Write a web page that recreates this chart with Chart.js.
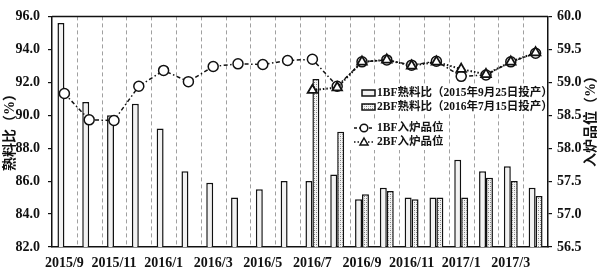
<!DOCTYPE html>
<html>
<head>
<meta charset="utf-8">
<script src="https://cdn.jsdelivr.net/npm/chart.js@4/dist/chart.umd.min.js"></script>
<style>
  html, body { margin: 0; padding: 0; background: #fff; }
  #wrap { width: 600px; height: 270px; }
</style>
</head>
<body>
<div id="wrap"><canvas id="c"></canvas></div>
<script>
// 月份
const months = ['2015/9','2015/10','2015/11','2015/12','2016/1','2016/2','2016/3','2016/4','2016/5','2016/6',
                '2016/7','2016/8','2016/9','2016/10','2016/11','2016/12','2017/1','2017/2','2017/3','2017/4'];
// 熟料比 (%)
const bf1Clinker = [95.6, 90.8, 90.0, 90.7, 89.2, 86.6, 85.9, 85.0, 85.5, 86.0,
                    86.0, 86.4, 84.9, 85.6, 85.0, 85.0, 87.3, 86.6, 86.9, 85.6];
const bf2Clinker = [null, null, null, null, null, null, null, null, null, null,
                    92.2, 89.0, 85.2, 85.4, 84.9, 85.0, 85.0, 86.2, 86.0, 85.1];
// 入炉品位 (%)
const bf1Grade = [58.83, 58.43, 58.42, 58.94, 59.18, 59.01, 59.24, 59.28, 59.27, 59.33,
                  59.35, 58.94, 59.31, 59.34, 59.26, 59.32, 59.09, 59.11, 59.31, 59.44];
const bf2Grade = [null, null, null, null, null, null, null, null, null, null,
                  58.88, 58.92, 59.31, 59.34, 59.25, 59.31, 59.20, 59.12, 59.31, 59.45];
const seriesNames = ['1BF熟料比（2015年9月25日投产）', '2BF熟料比（2016年7月15日投产）', '1BF入炉品位', '2BF入炉品位'];
const leftTitle = '熟料比（%）';
const rightTitle = '入炉品位（%）';

const FONT = "'Liberation Serif', 'Noto Sans CJK SC', serif";
const BF2_LINE_DASH = [1.5, 2];
const BF1_LINE_DASH = [4, 2.5, 1.5, 2.5];

// 2BF 的网点填充
function makePattern() {
  const c = document.createElement('canvas');
  c.width = 4; c.height = 4;
  const g = c.getContext('2d');
  g.fillStyle = '#f4f4f4'; g.fillRect(0, 0, 4, 4);
  g.fillStyle = '#7a7a7a';
  g.fillRect(0, 0, 1, 1); g.fillRect(2, 2, 1, 1);
  g.fillStyle = '#b8b8b8';
  g.fillRect(2, 0, 1, 1); g.fillRect(0, 2, 1, 1);
  return g.createPattern(c, 'repeat');
}
const dotFill = makePattern();

// 外框 + 坐标轴标题 + 图例
const framePlugin = {
  id: 'frame',
  beforeDatasetsDraw(chart) {
    // 竖向虚线网格
    const ctx = chart.ctx, a = chart.chartArea, xs = chart.scales.x;
    const w = (a.right - a.left) / months.length;
    ctx.save();
    ctx.strokeStyle = '#a0a0a0';
    ctx.lineWidth = 1;
    ctx.setLineDash([4, 3]);
    for (let i = 1; i < months.length; i++) {
      const x = Math.round(xs.getPixelForValue(i) - w / 2) + 0.5;
      ctx.beginPath(); ctx.moveTo(x, a.top); ctx.lineTo(x, a.bottom); ctx.stroke();
    }
    ctx.restore();
  },
  afterDraw(chart) {
    const ctx = chart.ctx, a = chart.chartArea;
    ctx.save();
    ctx.strokeStyle = '#111';
    ctx.lineWidth = 1.5;
    ctx.beginPath();
    ctx.moveTo(a.left, a.top); ctx.lineTo(a.right, a.top);
    ctx.stroke();

    // 轴标题
    ctx.fillStyle = '#111';
    ctx.font = 'bold 14px ' + FONT;
    ctx.textAlign = 'center';
    ctx.textBaseline = 'middle';
    ctx.save();
    ctx.translate(10, 129); ctx.rotate(-Math.PI / 2);
    ctx.fillText(leftTitle, 0, 0);
    ctx.restore();
    ctx.save();
    ctx.translate(591, 118); ctx.rotate(-Math.PI / 2);
    ctx.fillText(rightTitle, 0, 0);
    ctx.restore();

    // 图例
    const x0 = 362, tx = 377;
    const rows = [93, 107, 128, 142];
    ctx.fillStyle = '#fff';
    ctx.fillRect(358, 85, 188, 29);
    ctx.fillRect(350, 120, 95, 30);
    ctx.font = 'bold 11.5px ' + FONT;
    ctx.textAlign = 'left';
    // 柱样
    ctx.lineWidth = 1.5;
    ctx.strokeStyle = '#111';
    ctx.fillStyle = '#f2f2f2';
    ctx.fillRect(x0, rows[0] - 3, 13, 6); ctx.strokeRect(x0, rows[0] - 3, 13, 6);
    ctx.fillStyle = dotFill;
    ctx.fillRect(x0, rows[1] - 3, 13, 6); ctx.strokeRect(x0, rows[1] - 3, 13, 6);
    // 线样
    ctx.setLineDash([3, 2]);
    ctx.beginPath(); ctx.moveTo(354, rows[2]); ctx.lineTo(374, rows[2]); ctx.stroke();
    ctx.setLineDash(BF2_LINE_DASH);
    ctx.beginPath(); ctx.moveTo(354, rows[3]); ctx.lineTo(374, rows[3]); ctx.stroke();
    ctx.setLineDash([]);
    ctx.fillStyle = '#fff';
    ctx.beginPath(); ctx.arc(364, rows[2], 3.8, 0, Math.PI * 2); ctx.fill(); ctx.stroke();
    ctx.beginPath();
    ctx.moveTo(364, rows[3] - 4); ctx.lineTo(368, rows[3] + 3); ctx.lineTo(360, rows[3] + 3); ctx.closePath();
    ctx.fill(); ctx.stroke();
    ctx.fillStyle = '#111';
    ctx.textBaseline = 'middle';
    seriesNames.forEach((s, i) => ctx.fillText(s, tx, rows[i] + 0.5));
    ctx.restore();
  }
};

const tickFont = { family: FONT, weight: 'bold', size: 14 };

new Chart(document.getElementById('c'), {
  type: 'bar',
  data: {
    labels: months,
    datasets: [
      { type: 'line', label: seriesNames[3], data: bf2Grade, yAxisID: 'y2', order: 0,
        borderColor: '#111', borderWidth: 2, borderDash: BF2_LINE_DASH,
        pointStyle: 'triangle', pointRadius: 5.5, pointBackgroundColor: '#fff',
        pointBorderColor: '#111', pointBorderWidth: 1.8, fill: false, tension: 0 },
      { type: 'line', label: seriesNames[2], data: bf1Grade, yAxisID: 'y2', order: 1,
        borderColor: '#111', borderWidth: 1.5, borderDash: BF1_LINE_DASH,
        pointStyle: 'circle', pointRadius: 5, pointBackgroundColor: '#fff',
        pointBorderColor: '#111', pointBorderWidth: 1.5, fill: false, tension: 0 },
      { label: seriesNames[0], data: bf1Clinker, yAxisID: 'y', order: 2,
        backgroundColor: '#f2f2f2', borderColor: '#111', borderWidth: 1.5,
        categoryPercentage: 0.56, barPercentage: 1.0 },
      { label: seriesNames[1], data: bf2Clinker, yAxisID: 'y', order: 3,
        backgroundColor: dotFill, borderColor: '#111', borderWidth: 1.5,
        categoryPercentage: 0.56, barPercentage: 1.0 }
    ]
  },
  options: {
    responsive: true,
    maintainAspectRatio: false,
    animation: false,
    layout: { padding: { top: 7, left: 0, right: 0, bottom: 0 } },
    plugins: { legend: { display: false }, tooltip: { enabled: false } },
    scales: {
      x: {
        offset: true,
        grid: { display: true, drawOnChartArea: false, drawTicks: false },
        border: { color: '#111', width: 1.5 },
        ticks: {
          autoSkip: false, maxRotation: 0, padding: 8, color: '#111', font: tickFont,
          callback: function(v, i) { return i % 2 === 0 ? this.getLabelForValue(v) : ''; }
        },
        afterFit(s) { s.height = 23; }
      },
      y: {
        position: 'left', min: 82, max: 96,
        grid: { drawOnChartArea: false, tickLength: 4, color: '#111', lineWidth: 1.2 },
        border: { color: '#111', width: 1.5 },
        ticks: { stepSize: 2, padding: 8, color: '#111', font: tickFont,
                 callback: v => v.toFixed(1) },
        afterFit(s) { s.width = 52; }
      },
      y2: {
        position: 'right', min: 56.5, max: 60,
        grid: { drawOnChartArea: false, tickLength: 4, color: '#111', lineWidth: 1.2 },
        border: { color: '#111', width: 1.5 },
        ticks: { stepSize: 0.5, padding: 5, color: '#111', font: tickFont,
                 callback: v => v.toFixed(1) },
        afterFit(s) { s.width = 52; }
      }
    }
  },
  plugins: [framePlugin]
});
</script>
</body>
</html>
